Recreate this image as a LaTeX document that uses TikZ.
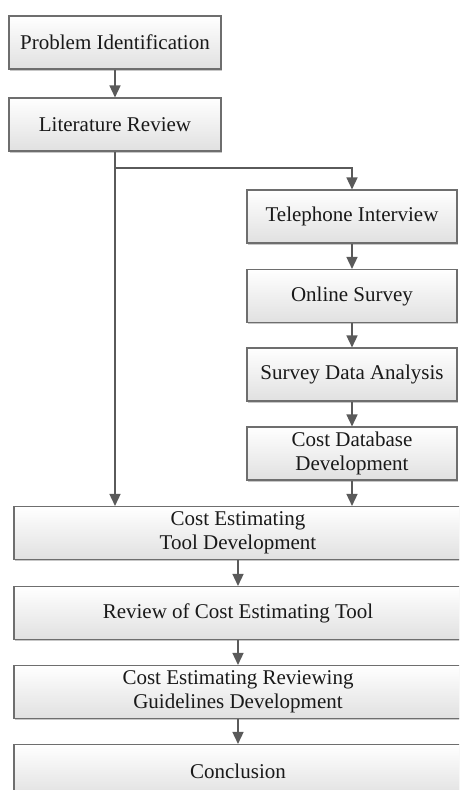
\documentclass[tikz,border=0pt]{standalone}
\usepackage{fontspec}
\setmainfont{Liberation Serif}
\usetikzlibrary{arrows.meta,shadows}
\definecolor{linec}{HTML}{5A5A5A}
\definecolor{boxc}{HTML}{6E6E6E}
\tikzset{
  box/.style={draw=boxc, line width=1.1pt, rectangle, top color=white, bottom color=black!12,
    drop shadow={shadow xshift=1pt, shadow yshift=-1.5pt, fill=black!22, opacity=1},
    inner sep=0pt, align=center, font=\fontsize{21}{24}\selectfont, text=black!90},
  topbox/.style={box, minimum width=212pt, minimum height=53pt},
  rbox/.style={box, minimum width=210pt, minimum height=53pt},
  wbox/.style={box, minimum width=448pt, minimum height=53pt},
  arr/.style={draw=linec, line width=1.5pt, -{Triangle[length=12pt,width=11pt]}},
  ln/.style={draw=linec, line width=1.5pt}
}
\begin{document}
\begin{tikzpicture}[x=1pt,y=-1pt]
\useasboundingbox (0,0) rectangle (459,790);
\clip (0,0) rectangle (459,790);
\node[topbox] (pi) at (115,42.5) {Problem Identification};
\node[topbox] (lr) at (115,124.5) {Literature Review};
\node[rbox] (tel) at (352,216.5) {Telephone Interview};
\node[rbox] (os) at (352,296) {Online Survey};
\node[rbox] (sda) at (352,374.5) {Survey Data Analysis};
\node[rbox] (cdd) at (352,453.5) {Cost Database\\Development};
\node[wbox] (cetd) at (238,533) {Cost Estimating\\Tool Development};
\node[wbox] (rcet) at (238,613) {Review of Cost Estimating Tool};
\node[wbox] (cergd) at (238,692) {Cost Estimating Reviewing\\Guidelines Development};
\node[wbox] (con) at (238,771) {Conclusion};
\coordinate (br) at (115,168);
\draw[arr] (pi.south) -- (lr.north);
\draw[arr] (lr.south) -- (lr.south |- cetd.north);
\draw[arr] (br) -| (tel.north);
\draw[arr] (tel.south) -- (os.north);
\draw[arr] (os.south) -- (sda.north);
\draw[arr] (sda.south) -- (cdd.north);
\draw[arr] (cdd.south) -- (cdd.south |- cetd.north);
\draw[arr] (cetd.south) -- (rcet.north);
\draw[arr] (rcet.south) -- (cergd.north);
\draw[arr] (cergd.south) -- (con.north);
\end{tikzpicture}
\end{document}
